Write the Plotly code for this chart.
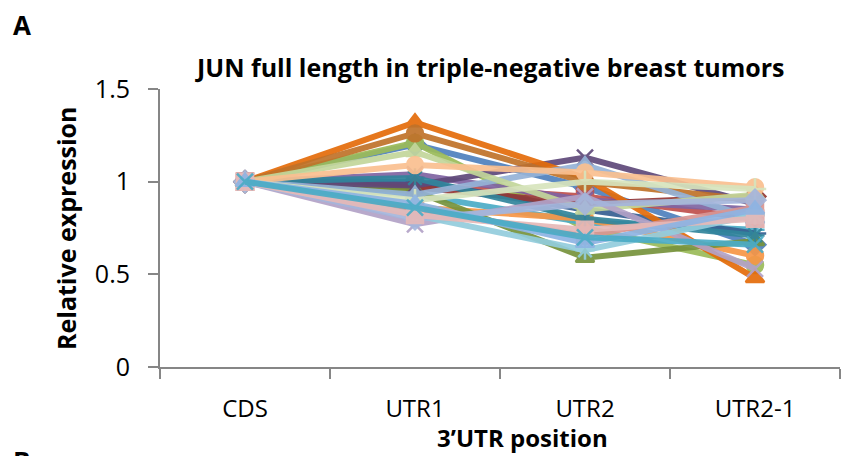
import plotly.graph_objects as go

categories = ["CDS", "UTR1", "UTR2", "UTR2-1"]
y_ticks = [0, 0.5, 1, 1.5]
y_tick_labels = ["0", "0.5", "1", "1.5"]

series_colors = [
    "#4F81BD", "#C0504D", "#9BBB59", "#8064A2", "#4BACC6", "#F79646",
    "#376092", "#953735", "#77933C", "#5F497A", "#31859C", "#E46C0A",
    "#C0722A", "#95B3D7", "#D99694", "#C3D69B", "#B3A2C7", "#93CDDD",
    "#FAC090", "#D7E4BD", "#A5B6DC", "#E6B9B8", "#8EB4E3", "#4BACC6",
]
series_symbols = [
    "diamond", "square", "circle", "x-thin-open", "asterisk-open", "circle",
    "cross-thin-open", "diamond", "triangle-up", "x-thin-open", "asterisk-open", "triangle-up",
    "circle", "triangle-up", "square", "triangle-up", "x-thin-open", "asterisk-open",
    "circle", "cross-thin-open", "diamond", "square", "triangle-up", "x-thin-open",
]
series_values = [
    [1, 1.20, 0.97, 0.66],
    [1, 0.98, 0.92, 0.80],
    [1, 1.21, 0.75, 0.55],
    [1, 1.04, 0.90, 0.85],
    [1, 0.93, 0.78, 0.74],
    [1, 0.86, 0.80, 0.60],
    [1, 1.00, 0.85, 0.72],
    [1, 0.97, 0.88, 0.92],
    [1, 0.95, 0.59, 0.68],
    [1, 0.98, 1.13, 0.88],
    [1, 1.02, 0.80, 0.71],
    [1, 1.32, 1.02, 0.48],
    [1, 1.26, 1.00, 0.90],
    [1, 0.93, 1.09, 0.80],
    [1, 0.85, 0.71, 0.86],
    [1, 1.16, 0.85, 0.93],
    [1, 0.77, 0.92, 0.53],
    [1, 0.82, 0.63, 0.82],
    [1, 1.09, 1.05, 0.97],
    [1, 0.90, 1.00, 0.96],
    [1, 0.80, 0.88, 0.90],
    [1, 0.82, 0.74, 0.80],
    [1, 0.88, 0.67, 0.85],
    [1, 0.86, 0.70, 0.66],
]

FONT = "'Open Sans', Lato, sans-serif"

W, H = 842, 456
PL, PR, PT, PB = 160, 840, 89, 367   # plot area in page pixels
PW, PH = PR - PL, PB - PT


def px(x):
    return (x - PL) / PW


def py(y):
    return (PB - y) / PH


fig = go.Figure()
for col, sym, vals in zip(series_colors, series_symbols, series_values):
    fig.add_trace(go.Scatter(
        x=categories, y=vals, mode="lines+markers",
        line=dict(color=col, width=6),
        marker=dict(symbol=sym, size=16, color=col,
                    line=dict(color=col, width=2.5)),
        opacity=0.92, showlegend=False,
    ))

fig.update_layout(
    width=W, height=H,
    margin=dict(l=PL, r=W - PR, t=PT, b=H - PB),
    paper_bgcolor="white", plot_bgcolor="white",
    font=dict(family=FONT, color="black"),
    showlegend=False,
)
fig.update_xaxes(
    type="category", range=[-0.5, 3.5], automargin=False,
    showgrid=False, showline=True, linecolor="#868686",
    linewidth=2, ticks="outside", tickson="boundaries", ticklen=10,
    tickcolor="#868686", tickwidth=1.5, tickfont=dict(size=24, family=FONT),
    ticklabelstandoff=19, zeroline=False,
)
fig.update_yaxes(
    range=[0, 1.5], tickvals=y_ticks, ticktext=y_tick_labels, automargin=False,
    showgrid=False, showline=True, linecolor="#868686", linewidth=2,
    ticks="outside", ticklen=10, tickcolor="#868686", tickwidth=1.5,
    tickfont=dict(size=25, family=FONT), ticklabelstandoff=13, zeroline=False,
)
fig.add_annotation(text="<b>JUN full length in triple-negative breast tumors</b>",
                   xref="paper", yref="paper", x=px(490), y=py(67),
                   showarrow=False, font=dict(size=25, family=FONT),
                   xanchor="center", yanchor="middle")
fig.add_annotation(text="<b>Relative expression</b>", textangle=-90,
                   xref="paper", yref="paper", x=px(66), y=py(228),
                   showarrow=False, font=dict(size=25, family=FONT),
                   xanchor="center", yanchor="middle")
fig.add_annotation(text="<b>3’UTR position</b>",
                   xref="paper", yref="paper", x=px(522), y=py(437),
                   showarrow=False, font=dict(size=24, family=FONT),
                   xanchor="center", yanchor="middle")
fig.add_annotation(text="<b>A</b>", xref="paper", yref="paper",
                   x=px(11), y=py(25), xanchor="left",
                   yanchor="middle", showarrow=False, font=dict(size=26, family=FONT))
fig.add_annotation(text="<b>B</b>", xref="paper", yref="paper",
                   x=px(11), y=py(441), xanchor="left",
                   yanchor="top", showarrow=False, font=dict(size=26, family=FONT))

fig.write_html(
    "out.html",
    config={"displayModeBar": False},
    post_script="document.body.style.margin='0';document.body.style.overflow='hidden';",
)
